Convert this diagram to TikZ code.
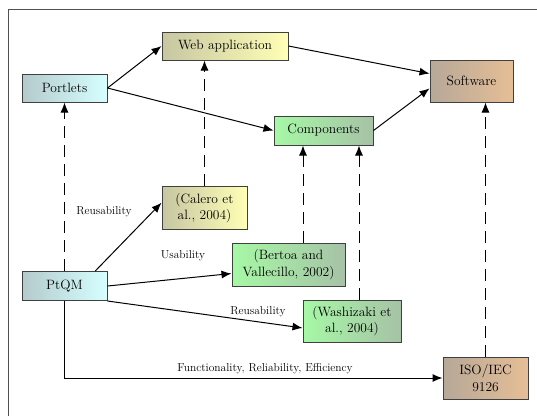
\documentclass[tikz,border=0pt]{standalone}
\usepackage{fontspec}
\usepackage{tikz}
\usetikzlibrary{arrows.meta}

\definecolor{frameGray}{HTML}{505050}
\definecolor{boxBorder}{HTML}{404040}
\definecolor{cyanDark}{HTML}{B4CACC}
\definecolor{cyanLight}{HTML}{D6FFFF}
\definecolor{yellowDark}{HTML}{C6C6A2}
\definecolor{yellowLight}{HTML}{FFFFB6}
\definecolor{greenLight}{HTML}{A6F8A6}
\definecolor{greenDark}{HTML}{A6C2A6}
\definecolor{tanDark}{HTML}{B6A898}
\definecolor{tanLight}{HTML}{E6BE96}

\begin{document}
\begin{tikzpicture}[x=1pt,y=-1pt,line width=1pt,>={Latex[length=10pt,width=8pt]},
        box/.style={draw=boxBorder,inner sep=0pt,align=center,font=\fontsize{13.5}{16.5}\selectfont},
        cyanbox/.style={box,left color=cyanDark,right color=cyanLight},
        yellowbox/.style={box,left color=yellowDark,right color=yellowLight},
        greenbox/.style={box,left color=greenLight,right color=greenDark},
        tanbox/.style={box,left color=tanDark,right color=tanLight},
        dep/.style={->,dash pattern=on 12pt off 7pt},
        lbl/.style={font=\fontsize{11.5}{14}\selectfont}]
        \useasboundingbox (0,0) rectangle (537,416);
        \draw[frameGray] (8,416) -- (8,9) -- (537,9);

        % boxes
        \node[cyanbox,minimum width=85,minimum height=28] (portlets) at (64.5,88) {Portlets};
        \node[yellowbox,minimum width=126,minimum height=28] (web) at (225,46) {Web application};
        \node[tanbox,minimum width=83,minimum height=42] (sw) at (471.5,81) {Software};
        \node[greenbox,minimum width=99,minimum height=29] (comp) at (323.5,130.5) {Components};
        \node[yellowbox,minimum width=85,minimum height=43] (calero) at (204.5,208) {(Calero et\\al., 2004)};
        \node[greenbox,minimum width=113,minimum height=43] (bertoa) at (288.5,264.5) {(Bertoa and\\Vallecillo, 2002)};
        \node[greenbox,minimum width=98,minimum height=42] (wash) at (352,321) {(Washizaki et\\al., 2004)};
        \node[cyanbox,minimum width=85,minimum height=29] (ptqm) at (64.5,286) {PtQM};
        \node[tanbox,minimum width=85,minimum height=42] (iso) at (485.5,378) {ISO/IEC\\9126};

        % composition
        \draw[->] (portlets.east) -- (web.west);
        \draw[->] (portlets.east) -- (comp.west);
        \draw[->] (web.east) -- (sw.170);
        \draw[->] (comp.east) -- (sw.190);

        % what each model measures
        \draw[dep] (ptqm.north) -- (portlets.south);
        \draw[dep] (calero.north) -- (calero.north |- web.south);
        \draw[dep] ([xshift=14.5pt]bertoa.north) -- ([xshift=14.5pt]bertoa.north |- comp.south);
        \draw[dep] ([xshift=7pt]wash.north) -- ([xshift=7pt]wash.north |- comp.south);
        \draw[dep] (iso.north) -- (iso.north |- sw.south);

        % PtQM draws on
        \draw[->] (ptqm.26) -- (calero.173);
        \draw[->] (ptqm.east) -- (bertoa.189);
        \draw[->] (ptqm.south east) -- (wash.188);
        \draw[->] (ptqm.south) |- (iso.west);
        \node[lbl] (reuseA) at (104,212) {Reusability};
        \node[lbl] (usab) at (183,256) {Usability};
        \node[lbl] (reuseB) at (258,312) {Reusability};
        \node[lbl] (func) at (265,369) {Functionality, Reliability, Efficiency};
\end{tikzpicture}
\end{document}
